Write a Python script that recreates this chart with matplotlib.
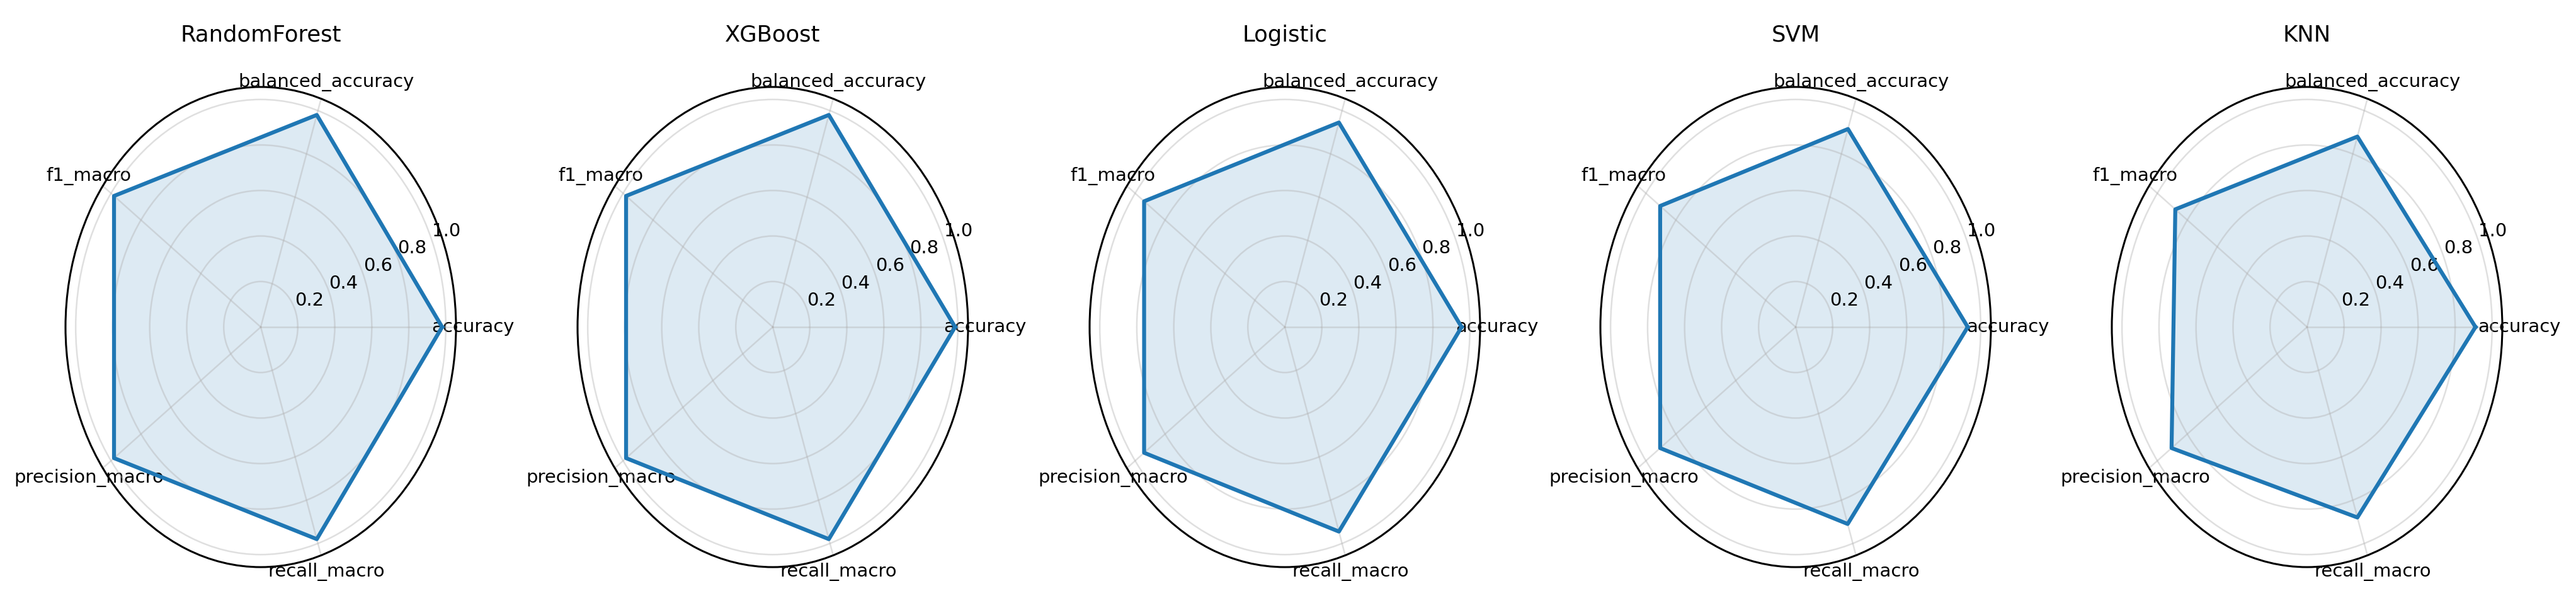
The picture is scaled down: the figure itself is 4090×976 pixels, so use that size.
import numpy as np
import matplotlib
matplotlib.use('Agg')
import matplotlib.pyplot as plt

metrics = ['accuracy', 'balanced_accuracy', 'f1_macro', 'precision_macro', 'recall_macro']
models = ['RandomForest', 'XGBoost', 'Logistic', 'SVM', 'KNN']

rf_scores = [0.98, 0.98, 0.98, 0.98, 0.98]
xgb_scores = [0.985, 0.98, 0.98, 0.98, 0.98]
logistic_scores = [0.955, 0.945, 0.94, 0.94, 0.945]
svm_scores = [0.93, 0.915, 0.905, 0.905, 0.91]
knn_scores = [0.91, 0.88, 0.88, 0.905, 0.88]
scores = [rf_scores, xgb_scores, logistic_scores, svm_scores, knn_scores]

W, H = 4091, 976
fig = plt.figure(figsize=(W / 100, H / 100), dpi=100)

angles = np.linspace(0, 2 * np.pi, len(metrics), endpoint=False)
closed = np.concatenate([angles, angles[:1]])

centers = [414, 1227, 2040, 2851, 3663]
rx, ry, cy = 310, 381, 519

for name, vals, cx in zip(models, scores, centers):
    ax = fig.add_axes([(cx - rx) / W, (H - cy - ry) / H, 2 * rx / W, 2 * ry / H],
                      projection='polar')
    ax.set_aspect('auto')
    v = np.concatenate([vals, vals[:1]])
    ax.plot(closed, v, color='#1f77b4', lw=4.5)
    ax.fill(closed, v, color='#1f77b4', alpha=0.15)
    ax.set_xticks(angles)
    ax.set_xticklabels(metrics, fontsize=21)
    ax.set_ylim(0, 1.055)
    ax.set_yticks([0.2, 0.4, 0.6, 0.8, 1.0])
    ax.set_yticklabels(['0.2', '0.4', '0.6', '0.8', '1.0'], fontsize=21)
    ax.grid(color='#b0b0b0', alpha=0.4, lw=1.8)
    ax.spines['polar'].set_linewidth(2.2)
    ax.tick_params(axis='x', pad=9)
    ax.set_title(name, fontsize=25.5, pad=52)

fig.savefig('out.png', dpi=100)
